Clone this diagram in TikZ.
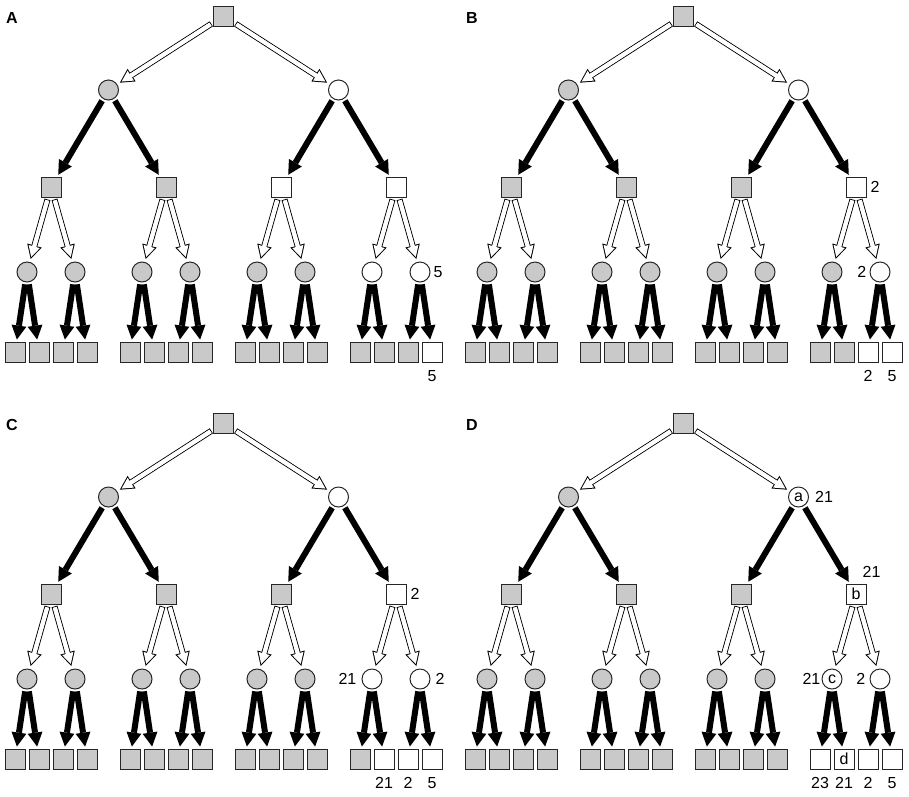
\documentclass[tikz,border=0pt]{standalone}
\usepackage{fontspec}
\setmainfont{Liberation Sans}
\usetikzlibrary{arrows.meta,positioning}
\definecolor{nodegrey}{gray}{0.79}

\tikzset{
  sq/.style={draw=black!85, line width=1pt, fill=#1, minimum size=20pt, inner sep=0pt},
  ci/.style={draw=black!85, line width=1pt, fill=#1, circle, minimum size=20pt, inner sep=0pt},
  heavy/.style={line width=6pt, -{Triangle[length=14pt,width=15pt,line width=0pt]},
    shorten <=2pt, shorten >=2pt},
  hollow/.style={line width=6pt, -{Triangle[length=14pt,width=15pt,line width=0pt]},
    shorten <=2pt, shorten >=3pt,
    postaction={draw=white, line width=4pt, -{Triangle[length=10.9pt,width=11.7pt,line width=0pt]},
      shorten <=3pt, shorten >=5.1pt},
    postaction={draw=white, line width=4pt, -, shorten <=3pt, shorten >=10pt}},
  pnl/.style={font=\bfseries\fontsize{16}{19}\selectfont, inner sep=0pt},
  num/.style={font=\fontsize{16}{19}\selectfont, inner sep=0pt}
}

\begin{document}
\begin{tikzpicture}[x=1pt, y=-1pt]
\useasboundingbox (0,0) rectangle (909,796);
% panel / shift / number of white nodes per level
\foreach \p/\dx/\dy/\nA/\nB/\nC/\nD in {A/0/0/1/2/2/1, B/460/0/1/1/1/2, C/0/407/1/1/2/3, D/460/407/1/1/2/4}{
\begin{scope}[shift={(\dx,\dy)}]
  \node[pnl] (\p) at (12,18) {\p};
  \node[sq=nodegrey] (\p-r) at (223.5,16) {};
  \foreach \i in {1,2}{
    \ifnum\i>\numexpr2-\nA\relax \def\f{white}\else \def\f{nodegrey}\fi
    \node[ci=\f] (\p-a\i) at ({108.5+230*(\i-1)},90) {};
    \draw[hollow] (\p-r) -- (\p-a\i);
  }
  \foreach \i in {1,...,4}{
    \ifnum\i>\numexpr4-\nB\relax \def\f{white}\else \def\f{nodegrey}\fi
    \pgfmathtruncatemacro\j{(\i+1)/2}
    \node[sq=\f] (\p-b\i) at ({51+115*(\i-1)},187) {};
    \draw[heavy] (\p-a\j) -- (\p-b\i);
  }
  \foreach \i in {1,...,8}{
    \ifnum\i>\numexpr8-\nC\relax \def\f{white}\else \def\f{nodegrey}\fi
    \pgfmathtruncatemacro\j{(\i+1)/2}
    \pgfmathsetmacro\xx{27+115*floor((\i-1)/2)+48*mod(\i-1,2)}
    \node[ci=\f] (\p-c\i) at (\xx,272) {};
    \draw[hollow] (\p-b\j) -- (\p-c\i);
  }
  \foreach \i in {1,...,16}{
    \ifnum\i>\numexpr16-\nD\relax \def\f{white}\else \def\f{nodegrey}\fi
    \pgfmathtruncatemacro\j{(\i+1)/2}
    \pgfmathsetmacro\xx{15+115*floor((\i-1)/4)+24*mod(\i-1,4)}
    \node[sq=\f] (\p-d\i) at (\xx,352) {};
    \draw[heavy] (\p-c\j) -- (\p-d\i);
  }
\end{scope}
}

% values, A
\node[num, right=3pt of A-c8] (A-v1) {5};
\node[num, below=8pt of A-d16] (A-v2) {5};
% values, B
\node[num, right=4pt of B-b4] (B-v1) {2};
\node[num, left=3pt of B-c8] (B-v2) {2};
\node[num, below=8pt of B-d15] (B-v3) {2};
\node[num, below=8pt of B-d16] (B-v4) {5};
% values, C
\node[num, right=4pt of C-b4] (C-v1) {2};
\node[num, left=5pt of C-c7] (C-v2) {21};
\node[num, right=5pt of C-c8] (C-v3) {2};
\node[num, below=8pt of C-d14] (C-v4) {21};
\node[num, below=8pt of C-d15] (C-v5) {2};
\node[num, below=8pt of C-d16] (C-v6) {5};
% values and letters, D
\node[num] (D-ta) at (D-a2) {a};
\node[num] (D-tb) at (D-b4) {b};
\node[num] (D-tc) at (D-c7) {c};
\node[num] (D-td) at (D-d14) {d};
\node[num, right=6pt of D-a2] (D-v1) {21};
\node[num, anchor=south west] (D-v2) at ([xshift=-4pt,yshift=6pt]D-b4.north east) {21};
\node[num, left=1pt of D-c7] (D-v3) {21};
\node[num, left=4pt of D-c8] (D-v4) {2};
\node[num, below=8pt of D-d13] (D-v5) {23};
\node[num, below=8pt of D-d14] (D-v6) {21};
\node[num, below=8pt of D-d15] (D-v7) {2};
\node[num, below=8pt of D-d16] (D-v8) {5};
\end{tikzpicture}
\end{document}
